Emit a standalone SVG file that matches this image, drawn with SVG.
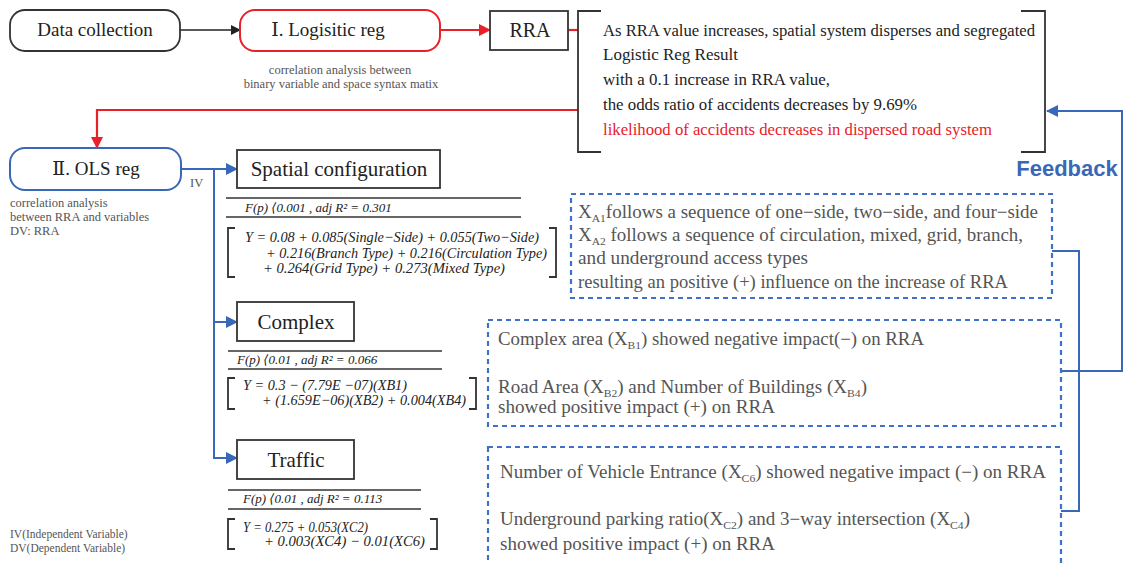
<svg xmlns="http://www.w3.org/2000/svg" width="1123" height="563" viewBox="0 0 1123 563">
<style>
.title{font-family:"Liberation Serif","DejaVu Serif",serif;fill:#222;}
.cap{font-family:"Liberation Serif","DejaVu Serif",serif;font-size:12.5px;fill:#555;}
.leg{font-family:"Liberation Serif","DejaVu Serif",serif;font-size:11.5px;fill:#555;}
.body{font-family:"Liberation Serif","DejaVu Serif",serif;font-size:16px;fill:#222;}
.gray{font-family:"Liberation Serif","DejaVu Serif",serif;font-size:18px;fill:#555;}
.eq{font-family:"Liberation Serif","DejaVu Serif",serif;font-size:15px;font-style:italic;fill:#222;}
.fp{font-family:"Liberation Serif","DejaVu Serif",serif;font-size:13px;font-style:italic;fill:#222;}
.sub{font-size:11px;}
.box{fill:#fff;stroke:#333;stroke-width:1.8;}
.rbox{fill:#fff;stroke:#e8202a;stroke-width:2;}
.bbox{fill:#fff;stroke:#3a68b8;stroke-width:2;}
.dash{fill:none;stroke:#3f72c6;stroke-width:2.2;stroke-dasharray:5 4;}
.brk{fill:none;stroke:#333;stroke-width:1.8;}
.rule{stroke:#333;stroke-width:1.3;}
.cblack{fill:none;stroke:#222;stroke-width:1.5;}
.cred{fill:none;stroke:#e8202a;stroke-width:2.2;}
.cblue{fill:none;stroke:#3a68b8;stroke-width:2;}
</style>
<defs>
<marker id="ab" markerWidth="10" markerHeight="10" refX="9" refY="5" orient="auto" markerUnits="userSpaceOnUse"><path d="M0,0 L10,5 L0,10 Z" fill="#222"/></marker>
<marker id="ar" markerWidth="12" markerHeight="12" refX="11" refY="6" orient="auto" markerUnits="userSpaceOnUse"><path d="M0,0 L12,6 L0,12 Z" fill="#e8202a"/></marker>
<marker id="au" markerWidth="12" markerHeight="12" refX="11" refY="6" orient="auto" markerUnits="userSpaceOnUse"><path d="M0,0 L12,6 L0,12 Z" fill="#3a68b8"/></marker>
</defs>
<rect width="1123" height="563" fill="#fff"/>

<g id="connectors">
<line class="cblack" x1="180" y1="30" x2="240" y2="30" marker-end="url(#ab)"/>
<line class="cred" x1="440" y1="30" x2="490" y2="30" marker-end="url(#ar)"/>
<line class="cred" x1="568" y1="30" x2="578" y2="30"/>
<polyline class="cred" points="578,110 97,110 97,148" marker-end="url(#ar)"/>
<line class="cblue" x1="181" y1="169" x2="237" y2="169" marker-end="url(#au)"/>
<line class="cblue" x1="214" y1="169" x2="214" y2="459"/>
<line class="cblue" x1="213" y1="322" x2="237" y2="322" marker-end="url(#au)"/>
<polyline class="cblue" points="213,458 214,458 237,458" marker-end="url(#au)"/>
<polyline class="cblue" points="1052,251 1079,251 1079,511 1061,511"/>
<polyline class="cblue" points="1061,371 1122,371 1122,111 1047,111" marker-end="url(#au)"/>
</g>

<g id="n-data">
<rect class="box" x="10" y="10" width="170" height="41" rx="15"/>
<text class="title" x="95" y="36" font-size="19" text-anchor="middle">Data collection</text>
</g>

<g id="n-logistic">
<rect class="rbox" x="240" y="10" width="200" height="41" rx="15"/>
<text class="title" x="328" y="36" font-size="19" text-anchor="middle">Ⅰ. Logisitic reg</text>
<text class="cap" x="340" y="74" text-anchor="middle">correlation analysis between</text>
<text class="cap" x="341" y="88" text-anchor="middle">binary variable and space syntax matix</text>
</g>

<g id="n-rra">
<rect class="box" x="490" y="11" width="78" height="39"/>
<text class="title" x="530" y="37" font-size="20" text-anchor="middle">RRA</text>
</g>

<g id="n-result">
<path class="brk" d="M601,11 H578 V152 H601 M1021,11 H1045 V152 H1021"/>
<text class="body" x="603" y="36" textLength="432" lengthAdjust="spacingAndGlyphs">As RRA value increases, spatial system disperses and segregated</text>
<text class="body" x="603" y="60" textLength="135" lengthAdjust="spacingAndGlyphs">Logistic Reg  Result</text>
<text class="body" x="603" y="85" textLength="227" lengthAdjust="spacingAndGlyphs">with a 0.1 increase in RRA value,</text>
<text class="body" x="603" y="110" textLength="314" lengthAdjust="spacingAndGlyphs">the odds ratio of accidents decreases by 9.69%</text>
<text class="body" x="603" y="135" textLength="389" lengthAdjust="spacingAndGlyphs" style="fill:#e8202a">likelihood of accidents decreases in dispersed road system</text>
</g>

<g id="n-ols">
<rect class="bbox" x="10" y="148" width="171" height="42" rx="15"/>
<text class="title" x="96" y="175" font-size="19" text-anchor="middle">Ⅱ. OLS reg</text>
<text class="cap" x="10" y="207">correlation analysis</text>
<text class="cap" x="10" y="221">between RRA and variables</text>
<text class="cap" x="10" y="235">DV: RRA</text>
<text class="cap" x="190" y="187" font-size="11">IV</text>
</g>

<g id="n-spatial">
<rect class="box" x="237" y="150" width="203" height="38"/>
<text class="title" x="339" y="176" font-size="21" text-anchor="middle">Spatial configuration</text>
<line class="rule" x1="226" y1="198" x2="521" y2="198"/>
<text class="fp" x="245" y="212">F(p) ⟨0.001 , adj R² = 0.301</text>
<line class="rule" x1="226" y1="217" x2="521" y2="217"/>
<path class="brk" d="M235,228 H228 V277 H235 M549,228 H556 V277 H549"/>
<text class="eq" x="245" y="242" textLength="294" lengthAdjust="spacingAndGlyphs">Y = 0.08 + 0.085(Single−Side) + 0.055(Two−Side)</text>
<text class="eq" x="266" y="258" textLength="281" lengthAdjust="spacingAndGlyphs">+ 0.216(Branch Type) + 0.216(Circulation Type)</text>
<text class="eq" x="263" y="273" textLength="242" lengthAdjust="spacingAndGlyphs">+ 0.264(Grid Type) + 0.273(Mixed Type)</text>
</g>

<g id="n-complex">
<rect class="box" x="237" y="302" width="117" height="39"/>
<text class="title" x="296" y="329" font-size="21" text-anchor="middle">Complex</text>
<line class="rule" x1="228" y1="351" x2="442" y2="351"/>
<text class="fp" x="237" y="364">F(p) ⟨0.01 , adj R² = 0.066</text>
<line class="rule" x1="228" y1="369" x2="442" y2="369"/>
<path class="brk" d="M235,378 H228 V409 H235 M469,378 H476 V409 H469"/>
<text class="eq" x="243" y="390" textLength="164" lengthAdjust="spacingAndGlyphs">Y = 0.3 − (7.79E −07)(XB1)</text>
<text class="eq" x="262" y="405" textLength="204" lengthAdjust="spacingAndGlyphs">+ (1.659E−06)(XB2) + 0.004(XB4)</text>
</g>

<g id="n-traffic">
<rect class="box" x="237" y="440" width="117" height="39"/>
<text class="title" x="296" y="467" font-size="21" text-anchor="middle">Traffic</text>
<line class="rule" x1="228" y1="490" x2="421" y2="490"/>
<text class="fp" x="243" y="503">F(p) ⟨0.01 , adj R² = 0.113</text>
<line class="rule" x1="228" y1="509" x2="421" y2="509"/>
<path class="brk" d="M235,519 H228 V549 H235 M430,519 H437 V549 H430"/>
<text class="eq" x="243" y="532" textLength="125" lengthAdjust="spacingAndGlyphs">Y = 0.275 + 0.053(XC2)</text>
<text class="eq" x="264" y="546" textLength="161" lengthAdjust="spacingAndGlyphs">+ 0.003(XC4) − 0.01(XC6)</text>
</g>

<g id="n-legend">
<text class="leg" x="10" y="538">IV(Independent Variable)</text>
<text class="leg" x="10" y="552">DV(Dependent Variable)</text>
</g>

<g id="n-boxA">
<rect class="dash" x="571" y="194" width="481" height="104"/>
<text class="gray" x="578" y="218" textLength="460" lengthAdjust="spacingAndGlyphs">X<tspan class="sub" dy="4">A1</tspan><tspan dy="-4">follows a sequence of one−side, two−side, and four−side</tspan></text>
<text class="gray" x="578" y="241" textLength="445" lengthAdjust="spacingAndGlyphs">X<tspan class="sub" dy="4">A2</tspan><tspan dy="-4"> follows a sequence of circulation, mixed, grid, branch,</tspan></text>
<text class="gray" x="578" y="264" textLength="230" lengthAdjust="spacingAndGlyphs">and underground access types</text>
<text class="gray" x="578" y="288" textLength="430" lengthAdjust="spacingAndGlyphs">resulting an positive (+) influence on the increase of RRA</text>
</g>

<g id="n-boxB">
<rect class="dash" x="488" y="320" width="573" height="106"/>
<text class="gray" x="498" y="345" textLength="426" lengthAdjust="spacingAndGlyphs">Complex area (X<tspan class="sub" dy="4">B1</tspan><tspan dy="-4">) showed negative impact(−) on RRA</tspan></text>
<text class="gray" x="498" y="393" textLength="369" lengthAdjust="spacingAndGlyphs">Road Area (X<tspan class="sub" dy="4">B2</tspan><tspan dy="-4">) and Number of Buildings (X</tspan><tspan class="sub" dy="4">B4</tspan><tspan dy="-4">)</tspan></text>
<text class="gray" x="498" y="413" textLength="277" lengthAdjust="spacingAndGlyphs">showed positive impact (+) on RRA</text>
</g>

<g id="n-boxC">
<rect class="dash" x="488" y="447" width="573" height="118"/>
<text class="gray" x="500" y="478" textLength="546" lengthAdjust="spacingAndGlyphs">Number of Vehicle Entrance (X<tspan class="sub" dy="4">C6</tspan><tspan dy="-4">) showed negative impact (−) on RRA</tspan></text>
<text class="gray" x="500" y="525" textLength="470" lengthAdjust="spacingAndGlyphs">Underground parking ratio(X<tspan class="sub" dy="4">C2</tspan><tspan dy="-4">) and 3−way intersection (X</tspan><tspan class="sub" dy="4">C4</tspan><tspan dy="-4">)</tspan></text>
<text class="gray" x="500" y="550" textLength="275" lengthAdjust="spacingAndGlyphs">showed positive impact (+) on RRA</text>
</g>

<g id="n-feedback">
<text x="1067" y="176" text-anchor="middle" font-family="'Liberation Sans','DejaVu Sans',sans-serif" font-size="22" font-weight="bold" fill="#3a68b8">Feedback</text>
</g>
</svg>
